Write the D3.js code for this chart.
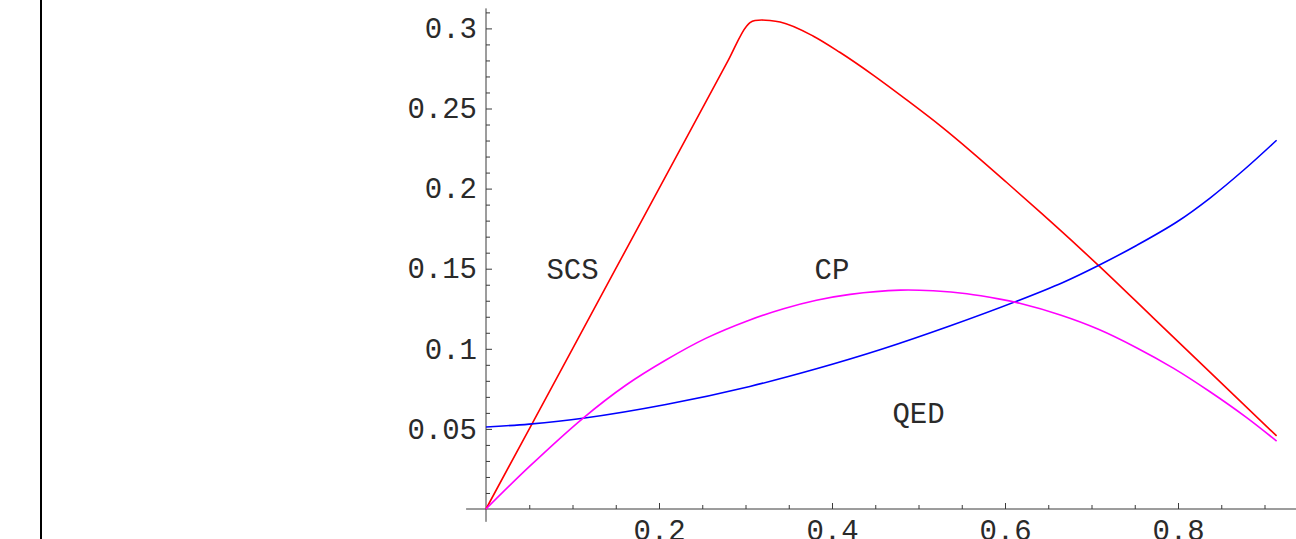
<!DOCTYPE html>
<html>
<head>
<meta charset="utf-8">
<script src="https://cdn.jsdelivr.net/npm/d3@7"></script>
<style>
  html, body { margin: 0; padding: 0; background: #ffffff; }
  svg { display: block; }
</style>
</head>
<body>
<svg id="chart" width="1296" height="539"></svg>
<script>
// ---- data ----
const xSCS = [0, 0.1, 0.2, 0.28, 0.3014, 0.3052, 0.311, 0.3187, 0.3283, 0.34, 0.378, 0.409, 0.448, 0.486, 0.525, 0.563, 0.602, 0.641, 0.689, 0.708, 0.772, 0.849, 0.914];
const ySCS = [0, 0.1, 0.2, 0.28, 0.3015, 0.3036, 0.3049, 0.3052, 0.3049, 0.3040, 0.2953, 0.2851, 0.2707, 0.2555, 0.2393, 0.2222, 0.2038, 0.1851, 0.1616, 0.1521, 0.1190, 0.0792, 0.0456];

const xQED = [0, 0.05, 0.112, 0.208, 0.305, 0.382, 0.459, 0.536, 0.615, 0.667, 0.708, 0.752, 0.799, 0.837, 0.876, 0.914];
const yQED = [0.0512, 0.0530, 0.0566, 0.0652, 0.0765, 0.0875, 0.1000, 0.1142, 0.1300, 0.1414, 0.1520, 0.1645, 0.1793, 0.1941, 0.2116, 0.2302];

const xCP = [0, 0.05, 0.112, 0.162, 0.208, 0.254, 0.305, 0.344, 0.382, 0.421, 0.479, 0.517, 0.556, 0.594, 0.617, 0.664, 0.708, 0.752, 0.795, 0.837, 0.879, 0.914];
const yCP = [0, 0.0264, 0.0566, 0.0774, 0.0930, 0.1065, 0.1180, 0.1250, 0.1303, 0.1340, 0.1366, 0.1362, 0.1344, 0.1310, 0.1284, 0.1211, 0.1122, 0.1007, 0.0878, 0.0732, 0.0572, 0.0424];

const seriesNames = ["SCS", "QED", "CP"];
const seriesColors = ["#ff0000", "#0000ff", "#ff00ff"];

const labelTexts = ["SCS", "CP", "QED"];
const labelX = [0.1, 0.4, 0.5];
const labelY = [0.15, 0.15, 0.06];

const xMajorTicks = [0.2, 0.4, 0.6, 0.8];
const xMajorLabels = ["0.2", "0.4", "0.6", "0.8"];
const xMinorTicks = [0.05, 0.1, 0.15, 0.25, 0.3, 0.35, 0.45, 0.5, 0.55, 0.65, 0.7, 0.75, 0.85, 0.9];
const yMajorTicks = [0.05, 0.1, 0.15, 0.2, 0.25, 0.3];
const yMajorLabels = ["0.05", "0.1", "0.15", "0.2", "0.25", "0.3"];
const yMinorTicks = [0.01, 0.02, 0.03, 0.04, 0.06, 0.07, 0.08, 0.09, 0.11, 0.12, 0.13, 0.14,
                     0.16, 0.17, 0.18, 0.19, 0.21, 0.22, 0.23, 0.24, 0.26, 0.27, 0.28, 0.29, 0.31];

// ---- layout ----
const svg = d3.select("#chart");
const x = d3.scaleLinear().domain([0, 1]).range([486, 1351]);
const y = d3.scaleLinear().domain([0, 0.3]).range([509, 28.4]);
const FONT = "'Courier New', 'Liberation Mono', monospace";
const axisColor = "#3a3a3a";
const textColor = "#2a2a2a";

// left frame bar
svg.append("line")
  .attr("x1", 41).attr("x2", 41).attr("y1", 0).attr("y2", 539)
  .attr("stroke", "#000").attr("stroke-width", 2);

// axis lines
svg.append("line")
  .attr("x1", x(-0.023)).attr("x2", 1296).attr("y1", y(0)).attr("y2", y(0))
  .attr("stroke", axisColor).attr("stroke-width", 1);
svg.append("line")
  .attr("x1", x(0)).attr("x2", x(0)).attr("y1", y(-0.008)).attr("y2", y(0.3125))
  .attr("stroke", axisColor).attr("stroke-width", 1);

// y axis
const yMajor = svg.append("g").attr("transform", `translate(${x(0)},0)`)
  .call(d3.axisLeft(y).tickValues(yMajorTicks).tickSize(-6).tickPadding(9)
        .tickFormat((d, i) => yMajorLabels[i]));
const yMinor = svg.append("g").attr("transform", `translate(${x(0)},0)`)
  .call(d3.axisLeft(y).tickValues(yMinorTicks).tickSize(-4).tickFormat(""));

// x axis
const xMajor = svg.append("g").attr("transform", `translate(0,${y(0)})`)
  .call(d3.axisBottom(x).tickValues(xMajorTicks).tickSize(-6).tickPadding(10)
        .tickFormat((d, i) => xMajorLabels[i]));
const xMinor = svg.append("g").attr("transform", `translate(0,${y(0)})`)
  .call(d3.axisBottom(x).tickValues(xMinorTicks).tickSize(-4).tickFormat(""));

[yMajor, yMinor, xMajor, xMinor].forEach(g => {
  g.select(".domain").remove();
  g.selectAll(".tick line").attr("stroke", axisColor).attr("stroke-width", 1);
  g.selectAll(".tick text")
    .attr("font-family", FONT).attr("font-size", 29).attr("fill", textColor);
});

// curves
const xs = [xSCS, xQED, xCP];
const ys = [ySCS, yQED, yCP];
const curves = [d3.curveMonotoneX, d3.curveCatmullRom.alpha(0.5), d3.curveCatmullRom.alpha(0.5)];
seriesNames.forEach((name, i) => {
  const pts = xs[i].map((v, j) => [v, ys[i][j]]);
  const line = d3.line().x(d => x(d[0])).y(d => y(d[1])).curve(curves[i]);
  svg.append("path")
    .datum(pts)
    .attr("d", line)
    .attr("fill", "none")
    .attr("stroke", seriesColors[i])
    .attr("stroke-width", 1.6)
    .attr("stroke-linejoin", "round");
});

// in-plot labels
labelTexts.forEach((t, i) => {
  svg.append("text")
    .attr("x", x(labelX[i]))
    .attr("y", y(labelY[i]))
    .attr("dy", "0.35em")
    .attr("text-anchor", "middle")
    .attr("font-family", FONT)
    .attr("font-size", 29)
    .attr("fill", textColor)
    .text(t);
});
</script>
</body>
</html>
